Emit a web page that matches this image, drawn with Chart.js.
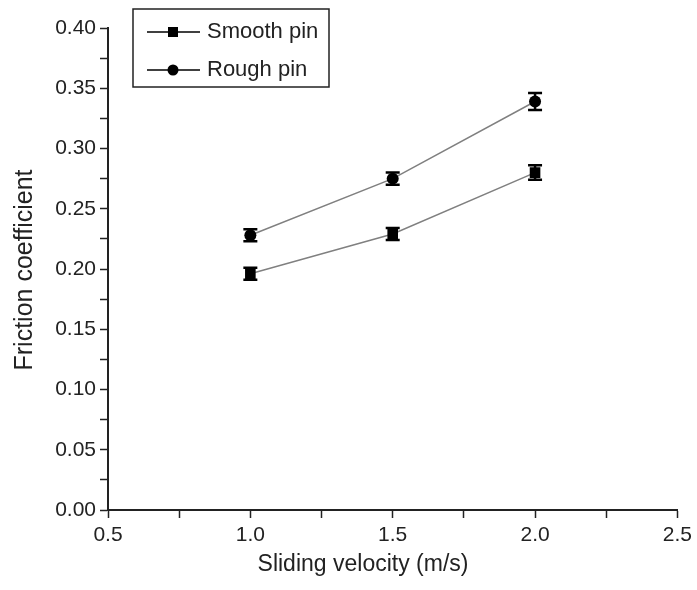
<!DOCTYPE html>
<html>
<head>
<meta charset="utf-8">
<script src="https://cdn.jsdelivr.net/npm/chart.js@4/dist/chart.umd.min.js"></script>
<style>
  body { margin: 0; background: #fff; }
  #wrap { width: 697px; height: 590px; }
</style>
</head>
<body>
<div id="wrap"><canvas id="frictionChart" width="697" height="590"></canvas></div>
<script>
// data
const velocities = [1.0, 1.5, 2.0];
const smoothPin = [0.196, 0.229, 0.280];
const smoothErr = [0.005, 0.005, 0.006];
const roughPin = [0.228, 0.275, 0.339];
const roughErr = [0.005, 0.005, 0.007];
const seriesNames = ['Smooth pin', 'Rough pin'];
const xTitle = 'Sliding velocity (m/s)';
const yTitle = 'Friction coefficient';

const FONT = "'Liberation Sans Narrow', 'Arial Narrow', 'Liberation Sans', Arial, sans-serif";
const INK = '#222';

// vertical error bars with caps
const errorBars = {
    id: 'errorBars',
    afterDatasetsDraw(chart) {
        const ctx = chart.ctx;
        const xs = chart.scales.x, ys = chart.scales.y;
        ctx.save();
        ctx.strokeStyle = '#000';
        ctx.lineWidth = 2.5;
        chart.data.datasets.forEach(ds => {
            if (!ds.errors) return;
            ds.data.forEach((p, i) => {
                const x = xs.getPixelForValue(p.x);
                const top = ys.getPixelForValue(p.y + ds.errors[i]);
                const bot = ys.getPixelForValue(p.y - ds.errors[i]);
                ctx.beginPath();
                ctx.moveTo(x, top); ctx.lineTo(x, bot);
                ctx.moveTo(x - 7, top); ctx.lineTo(x + 7, top);
                ctx.moveTo(x - 7, bot); ctx.lineTo(x + 7, bot);
                ctx.stroke();
            });
        });
        ctx.restore();
    }
};

// axis titles + boxed legend in the top-left corner
const decorations = {
    id: 'decorations',
    afterDraw(chart) {
        const ctx = chart.ctx;
        ctx.save();
        ctx.fillStyle = INK;
        ctx.textAlign = 'center';
        ctx.textBaseline = 'middle';
        ctx.font = '23px ' + FONT;
        ctx.fillText(xTitle, 363, 565);
        ctx.font = '25px ' + FONT;
        ctx.translate(25, 270);
        ctx.rotate(-Math.PI / 2);
        ctx.fillText(yTitle, 0, 0);
        ctx.restore();

        // legend
        ctx.save();
        ctx.strokeStyle = '#222';
        ctx.lineWidth = 1.5;
        ctx.strokeRect(133, 9, 196, 78);
        chart.data.datasets.forEach((ds, i) => {
            const y = 32 + i * 38;
            ctx.strokeStyle = '#000';
            ctx.lineWidth = 1.5;
            ctx.beginPath();
            ctx.moveTo(147, y); ctx.lineTo(200, y);
            ctx.stroke();
            ctx.fillStyle = '#000';
            if (ds.pointStyle === 'rect') {
                ctx.fillRect(168, y - 5, 10, 10);
            } else {
                ctx.beginPath();
                ctx.arc(173, y, 5.5, 0, Math.PI * 2);
                ctx.fill();
            }
            ctx.fillStyle = INK;
            ctx.font = '22px ' + FONT;
            ctx.textAlign = 'left';
            ctx.textBaseline = 'middle';
            ctx.fillText(ds.label, 207, y);
        });
        ctx.restore();
    }
};

const ctx = document.getElementById('frictionChart').getContext('2d');
new Chart(ctx, {
    type: 'scatter',
    data: {
        datasets: [{
            label: seriesNames[0],
            data: velocities.map((v, i) => ({ x: v, y: smoothPin[i] })),
            errors: smoothErr,
            showLine: true,
            borderColor: '#808080',
            borderWidth: 1.5,
            pointStyle: 'rect',
            pointRadius: 7.5,
            pointBackgroundColor: '#000',
            pointBorderColor: '#000',
            pointBorderWidth: 0
        }, {
            label: seriesNames[1],
            data: velocities.map((v, i) => ({ x: v, y: roughPin[i] })),
            errors: roughErr,
            showLine: true,
            borderColor: '#808080',
            borderWidth: 1.5,
            pointStyle: 'circle',
            pointRadius: 6,
            pointBackgroundColor: '#000',
            pointBorderColor: '#000',
            pointBorderWidth: 0
        }]
    },
    options: {
        responsive: false,
        animation: false,
        layout: { padding: { left: 0, top: 28, right: 18, bottom: 0 } },
        plugins: {
            legend: { display: false },
            tooltip: { enabled: false }
        },
        scales: {
            x: {
                type: 'linear',
                min: 0.5,
                max: 2.5,
                afterFit: s => { s.height = 80; },
                border: { color: '#222', width: 2 },
                grid: { drawOnChartArea: false, tickLength: 8, tickColor: '#222', tickWidth: 1.5 },
                ticks: {
                    stepSize: 0.25,
                    padding: 5,
                    color: INK,
                    font: { family: FONT, size: 21 },
                    maxRotation: 0,
                    callback: (v, i) => (i % 2 === 0 ? Number(v).toFixed(1) : '')
                }
            },
            y: {
                min: 0,
                max: 0.4,
                afterFit: s => { s.width = 108; },
                border: { color: '#222', width: 2 },
                grid: { drawOnChartArea: false, tickLength: 8, tickColor: '#222', tickWidth: 1.5 },
                ticks: {
                    stepSize: 0.025,
                    padding: 4,
                    color: INK,
                    font: { family: FONT, size: 21 },
                    callback: (v, i) => (i % 2 === 0 ? Number(v).toFixed(2) : '')
                }
            }
        }
    },
    plugins: [errorBars, decorations]
});
</script>
</body>
</html>
